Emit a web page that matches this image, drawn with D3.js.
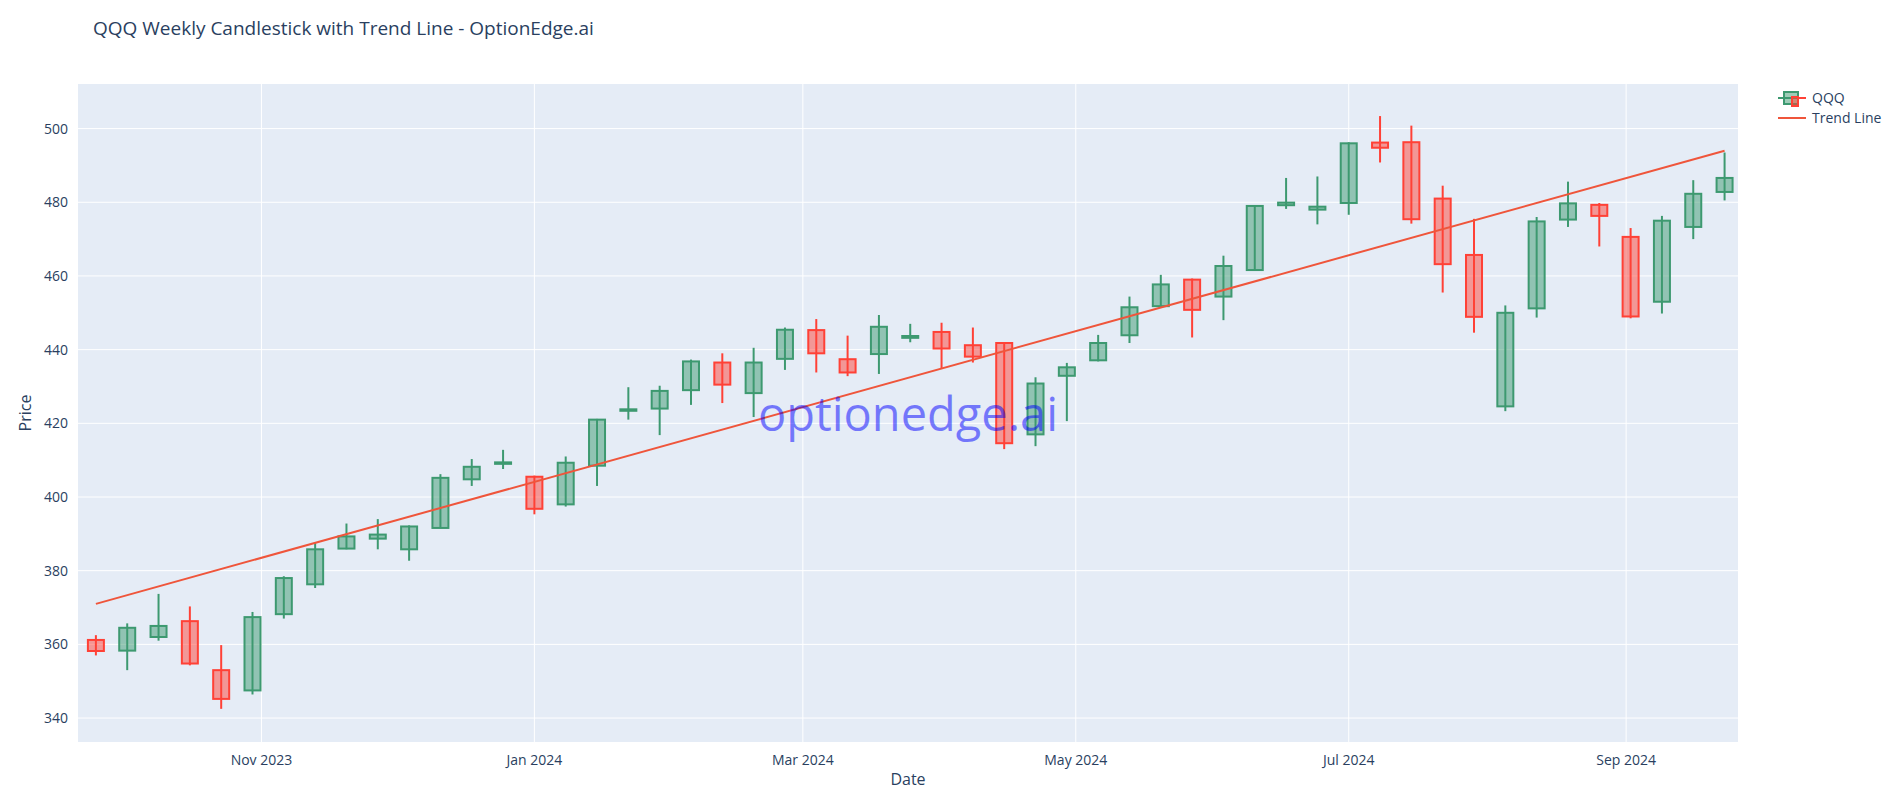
<!DOCTYPE html>
<html><head><meta charset="utf-8">
<script src="https://cdn.jsdelivr.net/npm/d3@7"></script>
<style>body{margin:0;background:#fff;font-family:"Open Sans",sans-serif}</style>
</head><body><svg id="c" width="1885" height="810"></svg>
<script>
const startDate = "2023-09-25";
const opens  = [361.2,358.3,362,366.3,353,347.5,368.2,376.3,386,388.7,385.8,391.6,404.8,409,405.5,398,408.5,423.4,424,429,436.5,428.2,437.5,445.3,437.4,438.8,443.2,444.8,441.2,441.8,417,432.9,437.1,443.9,451.8,459,454.4,461.6,479.2,478,479.8,496.2,496.3,481,465.7,424.6,451.2,475.3,479.3,470.6,453,473.3,482.8];
const highs  = [362.5,365.7,373.7,370.3,359.8,368.8,378.5,387.5,392.8,394,392.3,406.2,410.3,412.8,405.8,411,421.2,429.8,430.2,437.3,439,440.5,446,448.3,443.8,449.4,447,447.3,446,442,432.5,436.4,444,454.4,460.3,459.3,465.5,479.2,486.6,487,496.3,503.4,500.8,484.5,475.5,452,476,485.6,479.8,473,476.3,486,493.5];
const lows   = [357,353,361,354.3,342.5,346.4,367,375.3,385.8,385.8,382.7,391.5,403,407.6,395.3,397.4,403,421,416.8,425,425.5,421.7,434.5,433.8,432.8,433.4,442,435,436.5,413,413.8,420.6,436.8,441.8,451.4,443.3,448,461.4,478.2,474,476.6,490.8,474.2,455.5,444.6,423.3,448.7,473.3,468,448.5,449.8,470,480.5];
const closes = [358.2,364.5,365,354.8,345.2,367.4,378,385.8,389.3,389.8,392,405.2,408.2,409.4,396.8,409.3,421,423.8,428.8,436.8,430.5,436.5,445.4,439,433.8,446.2,443.7,440.3,438.1,414.6,430.8,435.2,441.8,451.5,457.7,450.8,462.7,479,479.9,478.8,496,494.8,475.4,463.2,448.9,450,474.8,479.7,476.3,449,475,482.3,486.6];
const trendEnds = [371.0, 494.0];
const yTicks = [340,360,380,400,420,440,460,480,500];
const xTickDates = ["2023-11-01","2024-01-01","2024-03-01","2024-05-01","2024-07-01","2024-09-01"];
const xTickLabels = ["Nov 2023","Jan 2024","Mar 2024","May 2024","Jul 2024","Sep 2024"];

const parse = d3.utcParse("%Y-%m-%d");
const d0 = parse(startDate);
const data = opens.map((o,i)=>({date:d3.utcDay.offset(d0,7*i),o,h:highs[i],l:lows[i],c:closes[i]}));
const svg = d3.select("#c");
const L=78,R=1738,T=84,B=742;
const x = d3.scaleUtc().domain([d3.utcDay.offset(d0,-3.2), d3.utcDay.offset(data[data.length-1].date,3.5)]).range([L,R]);
const y = d3.scaleLinear().domain([333.5,512.1]).range([B,T]);
svg.append("rect").attr("x",L).attr("y",T).attr("width",R-L).attr("height",B-T).attr("fill","#E5ECF6");
const g=svg.append("g");
yTicks.forEach(v=>{
  g.append("line").attr("x1",L).attr("x2",R).attr("y1",y(v)).attr("y2",y(v)).attr("stroke","#fff").attr("stroke-width",1);
  svg.append("text").attr("x",L-10).attr("y",y(v)+5).attr("text-anchor","end").attr("font-size",14).attr("fill","#2a3f5f").text(v);
});
xTickDates.forEach((d,i)=>{
  const px=x(parse(d));
  g.append("line").attr("x1",px).attr("x2",px).attr("y1",T).attr("y2",B).attr("stroke","#fff").attr("stroke-width",1);
  svg.append("text").attr("x",px).attr("y",B+23).attr("text-anchor","middle").attr("font-size",14).attr("fill","#2a3f5f").text(xTickLabels[i]);
});
const inc="#3D9970", dec="#FF4136", bw=16;
data.forEach(d=>{
  const up=d.c>=d.o, col=up?inc:dec, px=x(d.date);
  g.append("line").attr("x1",px).attr("x2",px).attr("y1",y(d.h)).attr("y2",y(d.l)).attr("stroke",col).attr("stroke-width",2);
  const top=y(Math.max(d.o,d.c)), bot=y(Math.min(d.o,d.c));
  g.append("rect").attr("x",px-bw/2).attr("y",top).attr("width",bw).attr("height",Math.max(bot-top,1))
   .attr("fill",up?"rgba(61,153,112,0.5)":"rgba(255,65,54,0.5)").attr("stroke",col).attr("stroke-width",2);
});
g.append("line").attr("x1",x(data[0].date)).attr("y1",y(trendEnds[0])).attr("x2",x(data[data.length-1].date)).attr("y2",y(trendEnds[1]))
 .attr("stroke","#EF553B").attr("stroke-width",2);
svg.append("text").attr("x",908).attr("y",431).attr("text-anchor","middle").attr("font-size",47).attr("fill","rgba(0,0,255,0.5)").text("optionedge.ai");
svg.append("text").attr("x",93).attr("y",35).attr("font-size",19).attr("fill","#2a3f5f").text("QQQ Weekly Candlestick with Trend Line - OptionEdge.ai");
svg.append("text").attr("x",(L+R)/2).attr("y",785).attr("text-anchor","middle").attr("font-size",16).attr("fill","#2a3f5f").text("Date");
svg.append("text").attr("transform","translate(31,"+((T+B)/2)+") rotate(-90)").attr("text-anchor","middle").attr("font-size",16).attr("fill","#2a3f5f").text("Price");
const lg=svg.append("g");
lg.append("line").attr("x1",1778).attr("x2",1798).attr("y1",98).attr("y2",98).attr("stroke",inc).attr("stroke-width",2);
lg.append("rect").attr("x",1784).attr("y",92).attr("width",14).attr("height",12).attr("fill","rgba(61,153,112,0.5)").attr("stroke",inc).attr("stroke-width",2);
lg.append("line").attr("x1",1798).attr("x2",1806).attr("y1",98).attr("y2",98).attr("stroke",dec).attr("stroke-width",2);
lg.append("rect").attr("x",1792).attr("y",97).attr("width",6).attr("height",9).attr("fill","rgba(255,65,54,0.5)").attr("stroke",dec).attr("stroke-width",2);
lg.append("text").attr("x",1812).attr("y",103).attr("font-size",14).attr("fill","#2a3f5f").text("QQQ");
lg.append("line").attr("x1",1778).attr("x2",1806).attr("y1",118).attr("y2",118).attr("stroke","#EF553B").attr("stroke-width",2);
lg.append("text").attr("x",1812).attr("y",123).attr("font-size",14).attr("fill","#2a3f5f").text("Trend Line");
</script></body></html>
